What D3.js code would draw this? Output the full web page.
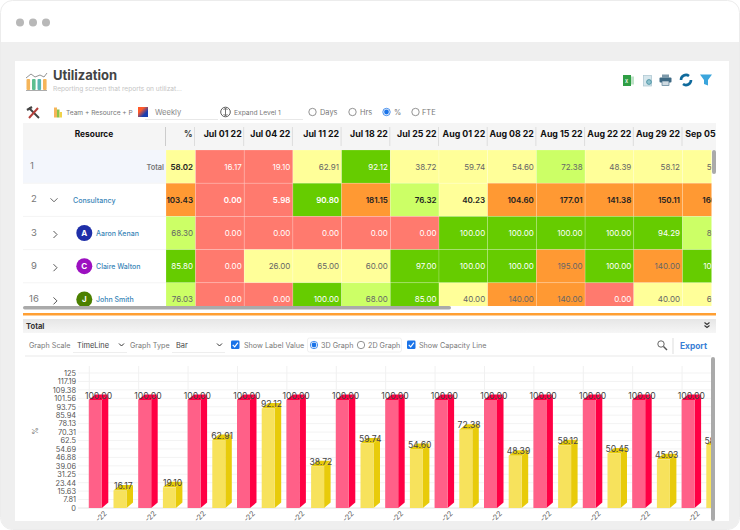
<!DOCTYPE html>
<meta charset="utf-8">
<html>
<style>
    body { margin: 0; background: #fff; }
    svg { display: block; }
    text { font-family: Inter, "Noto Sans", sans-serif; }
</style>
<div id="chartContainer"></div>
<script src="https://cdn.jsdelivr.net/npm/d3@7"></script>
<script type="text/javascript">
// table data
var weeks = ["Jul 01 22", "Jul 04 22", "Jul 11 22", "Jul 18 22", "Jul 25 22", "Aug 01 22", "Aug 08 22", "Aug 15 22", "Aug 22 22", "Aug 29 22", "Sep 05 22"];
var rowNumbers = ["1", "2", "3", "9", "16"];
var resources = ["Total", "Consultancy", "Aaron Kenan", "Claire Walton", "John Smith"];
var rowPercent = [58.02, 103.43, 68.30, 85.80, 76.03];
var totalRow = [16.17, 19.10, 62.91, 92.12, 38.72, 59.74, 54.60, 72.38, 48.39, 58.12, 50.45];
var consultancyRow = [0, 5.98, 90.80, 181.15, 76.32, 40.23, 104.60, 177.01, 141.38, 150.11, 160.00];
var aaronRow = [0, 0, 0, 0, 0, 100, 100, 100, 100, 94.29, 80.00];
var claireRow = [0, 26, 65, 60, 97, 100, 100, 195, 100, 140, 100];
var johnRow = [0, 0, 100, 68, 85, 40, 140, 140, 0, 40, 60];
var tableRows = [totalRow, consultancyRow, aaronRow, claireRow, johnRow];
var avatars = [null, null, {l: "A", c: "#1f2fa8"}, {l: "C", c: "#9c10c0"}, {l: "J", c: "#4c8000"}];

// graph data
var graphWeeks = ["w01", "w02", "w03", "w04", "w05", "w06", "w07", "w08", "w09", "w10", "w11", "w12", "w13"];
var graphLabels = ["-22", "-22", "-22", "-22", "-22", "-22", "-22", "-22", "-22", "-22", "-22", "-22", "-22"];
var capacity = [100, 100, 100, 100, 100, 100, 100, 100, 100, 100, 100, 100, 100];
var utilization = [16.17, 19.10, 62.91, 92.12, 38.72, 59.74, 54.60, 72.38, 48.39, 58.12, 50.45, 45.03, 58.30];
var yTicks = [0, 7.81, 15.63, 23.44, 31.25, 39.06, 46.88, 54.69, 62.5, 70.31, 78.13, 85.94, 93.75, 101.56, 109.38, 117.19, 125];

var svg = d3.select("#chartContainer").append("svg").attr("width", 740).attr("height", 530);
var defs = svg.append("defs");

function clip(id, x, y, w, h) {
    defs.append("clipPath").attr("id", id).append("rect").attr("x", x).attr("y", y).attr("width", w).attr("height", h);
}
clip("tableClip", 23, 150, 688.5, 156);
clip("headClip", 23, 123, 693, 27);
clip("graphClip", 15, 357, 696, 164);

function label(g, x, y, str, size, color, weight, anchor) {
    return g.append("text").attr("x", x).attr("y", y).attr("font-size", size).attr("fill", color)
        .attr("font-weight", weight || 400).attr("text-anchor", anchor || "start").text(str);
}
function box(g, x, y, w, h, fill, r) {
    return g.append("rect").attr("x", x).attr("y", y).attr("width", w).attr("height", h).attr("fill", fill).attr("rx", r || 0);
}
function line(g, x1, y1, x2, y2, color, width) {
    return g.append("line").attr("x1", x1).attr("y1", y1).attr("x2", x2).attr("y2", y2)
        .attr("stroke", color).attr("stroke-width", width || 1);
}
function path(g, d, color, width, fill) {
    return g.append("path").attr("d", d).attr("stroke", color).attr("stroke-width", width || 1).attr("fill", fill || "none");
}
function radio(g, x, y, on) {
    g.append("circle").attr("cx", x).attr("cy", y).attr("r", 3.7).attr("fill", "#fff").attr("stroke", on ? "#1a73e8" : "#777").attr("stroke-width", 0.8);
    if (on) g.append("circle").attr("cx", x).attr("cy", y).attr("r", 2.4).attr("fill", "#1a73e8");
}
function checkbox(g, x, y) {
    box(g, x, y, 8.5, 8.5, "#1a73e8", 1.2);
    path(g, "M" + (x + 1.7) + " " + (y + 4.4) + "l2 2l3.2 -4.2", "#fff", 1.2);
}

// window frame
box(svg, 0.5, 0.5, 739, 529, "#fff", 12).attr("stroke", "#ececec");
svg.append("path").attr("fill", "#efefef")
    .attr("d", "M1 42H739V518a11 11 0 0 1 -11 11H12a11 11 0 0 1 -11 -11Z");
[20, 33, 46].forEach(function (x) {
    svg.append("circle").attr("cx", x).attr("cy", 22.5).attr("r", 4).attr("fill", "#b8b8b8");
});
box(svg, 15, 61, 714, 460, "#fff");

// header of the screen
var head = svg.append("g");
label(head, 53, 80, "Utilization", 13, "#444", 700);
label(head, 53, 91, "Reporting screen that reports on utilizat...", 6.6, "#c4c4c4");
[[26.5, "#f5b55a"], [32, "#5cbf8f"], [37.5, "#58b7b0"], [43, "#f5b55a"]].forEach(function (d) {
    box(head, d[0], 79, 3.6, 11, d[1], 1);
});
line(head, 26, 90.5, 47, 90.5, "#888", 0.7);
path(head, "M26 78L31 74L35 77L40 75L44 77L47 73", "#888", 0.9);

// screen action icons
box(head, 623, 75, 8, 11, "#2f9e44");
box(head, 631, 76.5, 3, 8, "#bfe3c8");
label(head, 625, 83, "x", 5.5, "#d8f0de", 700);
box(head, 643.5, 75.5, 8, 10.5, "#d6e6ec").attr("stroke", "#a9c4cf").attr("stroke-width", 0.7);
head.append("circle").attr("cx", 649).attr("cy", 82).attr("r", 2.4).attr("fill", "#8fc3cf").attr("stroke", "#3f8a9c").attr("stroke-width", 0.8);
box(head, 662, 74.5, 7, 3, "#7d99aa");
box(head, 659.5, 77.5, 12, 5, "#3f6a84", 1);
box(head, 662, 81, 7, 4.5, "#cfdbe2").attr("stroke", "#3f6a84").attr("stroke-width", 0.6);
path(head, "M681 80a5 5 0 0 1 8 -4", "#0f6a9c", 2.6);
path(head, "M691 80a5 5 0 0 1 -8 4", "#0f6a9c", 2.6);
head.append("path").attr("d", "M700 74.5H712L708 80V85.5L704 84V80Z").attr("fill", "#3ba5dc");

// toolbar
var tools = svg.append("g");
path(tools, "M29 108L39 118", "#444", 2);
path(tools, "M38 108L29 118", "#b5403a", 2);
path(tools, "M27 110L32 107", "#444", 2.2);
[["#f5b55a", 54, 107.5, 3], ["#8bc34a", 57, 109.5, 2.5], ["#f0d24a", 59.5, 112, 2.5]].forEach(function (d) {
    box(tools, d[1], d[2], d[3], 117.5 - d[2], d[0]);
});
label(tools, 66, 115, "Team + Resource + P", 6.6, "#777");
var grad = defs.append("linearGradient").attr("id", "scaleGrad").attr("x1", 0).attr("y1", 0).attr("x2", 1).attr("y2", 1);
grad.append("stop").attr("offset", "0.3").attr("stop-color", "#ff5a2a");
grad.append("stop").attr("offset", "0.7").attr("stop-color", "#1a3fb0");
box(tools, 138, 107, 10, 10, "url(#scaleGrad)");
label(tools, 155, 115, "Weekly", 7.6, "#888");
line(tools, 145, 119.5, 218, 119.5, "#e8e8e8");
tools.append("circle").attr("cx", 225.5).attr("cy", 112).attr("r", 4.8).attr("fill", "none").attr("stroke", "#333").attr("stroke-width", 0.8);
path(tools, "M225.5 108.5V115.5M223.5 110l2 -2l2 2M223.5 114l2 2l2 -2", "#333", 0.7);
label(tools, 234, 115, "Expand Level 1", 6.7, "#777");
line(tools, 220, 119.5, 303, 119.5, "#e8e8e8");
[[312.5, "Days", 320, false], [352.5, "Hrs", 360, false], [386.5, "%", 394, true], [415.5, "FTE", 422, false]].forEach(function (d) {
    radio(tools, d[0], 112, d[3]);
    label(tools, d[2], 115, d[1], 7.4, "#777");
});

// table
var x = d3.scaleBand().domain(weeks).range([195.5, 195.5 + 48.7 * weeks.length]);
var y = d3.scaleBand().domain(resources).range([150, 150 + 33.2 * resources.length]);
var cellColor = d3.scaleThreshold().domain([25, 66, 85, 100.01])
    .range(["#ff7a6e", "#ffff99", "#ccff66", "#66cc00", "#ff9933"]);
var textColor = d3.scaleThreshold().domain([25, 66, 85, 100.01])
    .range(["#fff", "#666", "#666", "#fff", "#666"]);
var boldTextColor = d3.scaleThreshold().domain([25, 66, 85, 100.01])
    .range(["#fff", "#222", "#222", "#fff", "#222"]);

var thead = svg.append("g").attr("clip-path", "url(#headClip)");
box(thead, 23, 123, 693, 27, "#f5f5f5");
label(thead, 94, 137, "Resource", 8.4, "#111", 700, "middle");
label(thead, 192.5, 137, "%", 8.4, "#333", 700, "end");
line(thead, 165.5, 127, 165.5, 146, "#ccc");
line(thead, 194.5, 127, 194.5, 146, "#ddd");
thead.selectAll(".week").data(weeks).enter().append("text")
    .attr("x", function (d) { return x(d) + x.bandwidth() - 2.5; })
    .attr("y", 137).attr("text-anchor", "end")
    .attr("font-size", 8.8).attr("font-weight", 700).attr("fill", "#111")
    .text(function (d) { return d; });
thead.selectAll(".sep").data(weeks).enter().append("line")
    .attr("x1", function (d) { return x(d) + x.bandwidth() - 0.5; })
    .attr("x2", function (d) { return x(d) + x.bandwidth() - 0.5; })
    .attr("y1", 127).attr("y2", 146).attr("stroke", "#ddd");

var tbody = svg.append("g").attr("clip-path", "url(#tableClip)");
box(tbody, 23, 150, 143, y.bandwidth(), "#f3f6fc");

resources.forEach(function (name, r) {
    var rowY = y(name), mid = rowY + y.bandwidth() / 2, bold = r < 2;
    line(tbody, 23, rowY + y.bandwidth(), 166, rowY + y.bandwidth(), "#f4f4f4");
    label(tbody, r === 0 ? 32 : 34, mid + 2.5, rowNumbers[r], 9.5, "#777", 400, "middle");
    if (r === 0) label(tbody, 164, mid + 3, name, 7.4, "#777", 600, "end");
    else if (r === 1) {
        path(tbody, "M50.5 " + (mid - 1.5) + "l3.5 3.5l3.5 -3.5", "#555", 0.9);
        label(tbody, 73, mid + 3, name, 7.1, "#3a86b8", 500);
    } else {
        path(tbody, "M53.5 " + (mid - 2) + "l3.5 3.5l-3.5 3.5", "#444", 0.9);
        tbody.append("circle").attr("cx", 84.3).attr("cy", mid).attr("r", 8).attr("fill", avatars[r].c);
        label(tbody, 84.3, mid + 3, avatars[r].l, 8, "#fff", 700, "middle");
        label(tbody, 96, mid + 3, name, 7, "#3a86b8", 500);
    }
    // % column then one cell per week
    var pct = rowPercent[r];
    box(tbody, 166, rowY, 29.5, y.bandwidth(), cellColor(pct)).attr("stroke", "#fff").attr("stroke-opacity", 0.3).attr("stroke-width", 0.6);
    label(tbody, 193, mid + 3, pct.toFixed(2), 8, bold ? boldTextColor(pct) : textColor(pct), bold ? 600 : 400, "end");

    var row = tbody.append("g");
    row.selectAll("rect").data(tableRows[r]).enter().append("rect")
        .attr("x", function (d, i) { return x(weeks[i]); })
        .attr("y", rowY)
        .attr("width", x.bandwidth())
        .attr("height", y.bandwidth())
        .attr("fill", function (d) { return cellColor(d); })
        .attr("stroke", "#fff").attr("stroke-opacity", 0.3).attr("stroke-width", 0.6);
    row.selectAll("text").data(tableRows[r]).enter().append("text")
        .attr("x", function (d, i) { return x(weeks[i]) + x.bandwidth() - 2.5; })
        .attr("y", mid + 3)
        .attr("text-anchor", "end")
        .attr("font-size", 8)
        .attr("font-weight", r === 1 ? 600 : 400)
        .attr("fill", function (d) { return r === 1 ? boldTextColor(d) : textColor(d); })
        .text(function (d) { return d.toFixed(2); });
});

// scrollbars and split line
box(svg, 712, 150, 4, 24, "#aaa", 2);
box(svg, 23, 306, 428, 3.5, "#aaa", 1.7);
box(svg, 23, 313, 693, 2.5, "#ff9f33");
var totalGrad = defs.append("linearGradient").attr("id", "totalGrad").attr("x1", 0).attr("y1", 0).attr("x2", 0).attr("y2", 1);
totalGrad.append("stop").attr("offset", 0).attr("stop-color", "#e6e6e6");
totalGrad.append("stop").attr("offset", 1).attr("stop-color", "#f6f6f6");
box(svg, 23, 319, 693, 14, "url(#totalGrad)");
label(svg, 26, 328.5, "Total", 7.6, "#333", 700);
path(svg, "M704.5 322.5l2.5 2l2.5 -2M704.5 325.5l2.5 2l2.5 -2", "#333", 1.1);

// graph controls
var ctl = svg.append("g");
label(ctl, 29, 348, "Graph Scale", 7.2, "#777");
label(ctl, 77, 348, "TimeLine", 7.4, "#444");
path(ctl, "M119 343.5l2.5 2.5l2.5 -2.5", "#333", 1);
line(ctl, 73, 352.5, 127, 352.5, "#eee");
label(ctl, 130, 348, "Graph Type", 7.2, "#777");
label(ctl, 176, 348, "Bar", 7.4, "#444");
path(ctl, "M217 343.5l2.5 2.5l2.5 -2.5", "#333", 1);
line(ctl, 172, 352.5, 225, 352.5, "#eee");
checkbox(ctl, 231, 340.5);
label(ctl, 244, 348, "Show Label Value", 7.2, "#777");
box(ctl, 307.5, 338, 94, 14, "#fff", 2).attr("stroke", "#f0f0f0");
radio(ctl, 314, 345, true);
label(ctl, 321, 348, "3D Graph", 7.2, "#777");
radio(ctl, 361, 345, false);
label(ctl, 368, 348, "2D Graph", 7.2, "#777");
checkbox(ctl, 407, 340.5);
label(ctl, 419, 348, "Show Capacity Line", 7.2, "#777");
ctl.append("circle").attr("cx", 661).attr("cy", 344).attr("r", 3.2).attr("fill", "none").attr("stroke", "#555").attr("stroke-width", 0.9);
path(ctl, "M663.5 346.5l3.5 3.5", "#555", 1.4);
line(ctl, 673, 338, 673, 354, "#ddd");
label(ctl, 680, 349, "Export", 8.4, "#3a7fd5", 700);
line(ctl, 25, 356, 711, 356, "#e9e9e9");

// graph
var graph = svg.append("g").attr("clip-path", "url(#graphClip)");
var step = 49.4, barW = 13, depth = 6.5, rise = 5.5;
var xg = d3.scaleBand().domain(graphWeeks).range([88.8, 88.8 + step * graphWeeks.length]);
var xs = d3.scaleBand().domain(["capacity", "utilization"]).range([0, step]);
var yg = d3.scaleLinear().domain([0, 125]).range([508, 373]);

graph.selectAll(".hgrid").data(yTicks).enter().append("line")
    .attr("x1", 78).attr("x2", 712)
    .attr("y1", function (d) { return yg(d); }).attr("y2", function (d) { return yg(d); })
    .attr("stroke", function (d) { return d === 0 ? "#e4e4e4" : "#f3f3f3"; });
graph.selectAll(".vgrid").data(graphWeeks).enter().append("line")
    .attr("x1", function (d) { return xg(d) + 0.5; }).attr("x2", function (d) { return xg(d) + 0.5; })
    .attr("y1", 366).attr("y2", 508).attr("stroke", "#f1f1f1");

var yAxis = d3.axisLeft(yg).tickValues(yTicks).tickSize(0).tickPadding(0).tickFormat(function (d) { return d; });
var yAxisG = svg.append("g").attr("transform", "translate(76,0)").call(yAxis);
yAxisG.select(".domain").remove();
yAxisG.selectAll("text").attr("font-size", 7.4).attr("fill", "#555").style("font-family", "Inter, sans-serif");
label(svg, 0, 0, "%", 7.5, "#666", 400, "middle").attr("transform", "translate(38,431) rotate(-90)");

function bars3d(series, values, front, dark) {
    var g = graph.append("g");
    var sets = g.selectAll("g").data(values).enter().append("g")
        .attr("transform", function (d, i) { return "translate(" + (xg(graphWeeks[i]) + xs(series)) + ",0)"; });
    sets.append("path").attr("fill", dark).attr("d", function (d) {
        var t = yg(d), b = yg(0);
        return "M" + barW + " " + b + "V" + t + "L" + (barW + depth) + " " + (t - rise) + "V" + (b - rise) + "Z";
    });
    sets.append("path").attr("fill", dark).attr("d", function (d) {
        var t = yg(d);
        return "M0 " + t + "L" + depth + " " + (t - rise) + "H" + (barW + depth) + "L" + barW + " " + t + "Z";
    });
    sets.append("rect").attr("x", 0).attr("width", barW)
        .attr("y", function (d) { return yg(d); })
        .attr("height", function (d) { return yg(0) - yg(d); })
        .attr("fill", front);
    return sets;
}
var capBars = bars3d("capacity", capacity, "#ff6088", "#ff0044");
var utilBars = bars3d("utilization", utilization, "#f7e25c", "#e8cb0a");
[capBars, utilBars].forEach(function (sets) {
    sets.append("text")
        .attr("x", (barW + depth) / 2)
        .attr("y", function (d) { return yg(d) - 1.5; })
        .attr("text-anchor", "middle")
        .attr("font-size", 8.6)
        .attr("fill", "#444")
        .text(function (d) { return d.toFixed(2); });
});

// x labels, only the end of them is on screen
graph.selectAll(".xlab").data(graphLabels).enter().append("text")
    .attr("transform", function (d, i) { return "translate(" + (xg(graphWeeks[i]) + 18.5) + ",514) rotate(-45)"; })
    .attr("text-anchor", "end")
    .attr("font-size", 7.4)
    .attr("fill", "#666")
    .text(function (d) { return d; });

box(svg, 711, 357, 4, 164, "#aaa", 2);
</script>
</html>
